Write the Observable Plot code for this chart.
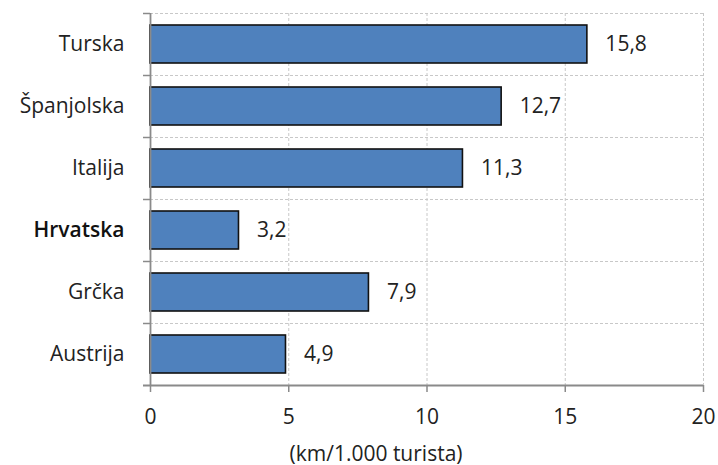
<!DOCTYPE html>
<html>
<head>
<meta charset="utf-8">
<script src="https://cdn.jsdelivr.net/npm/d3@7"></script>
<script src="https://cdn.jsdelivr.net/npm/@observablehq/plot@0.6"></script>
<style>
  html, body { margin: 0; padding: 0; background: #fff; }
  #chart svg { font-family: "Open Sans", "Noto Sans", sans-serif; }
</style>
</head>
<body>
<div id="chart"></div>
<script>
const categories = ["Turska", "Španjolska", "Italija", "Hrvatska", "Grčka", "Austrija"];
const values = [15.8, 12.7, 11.3, 3.2, 7.9, 4.9];
const xTicks = [0, 5, 10, 15, 20];
const axisTitle = "(km/1.000 turista)";
const highlighted = ["Hrvatska"];

const data = categories.map((name, i) => ({name, value: values[i]}));
const fmt = v => v.toFixed(1).replace(".", ",");

const W = 718, H = 465;
const mTop = 13, mBottom = 80, mLeft = 150, mRight = 15;
const step = (H - mTop - mBottom) / categories.length;
const gray = "#8a8a8a";
const grid = "#c8c8c8";
const fs = 21;

const chart = Plot.plot({
  width: W,
  height: H,
  marginTop: mTop,
  marginBottom: mBottom,
  marginLeft: mLeft,
  marginRight: mRight,
  style: {fontSize: fs + "px", color: "#222"},
  x: {domain: [0, 20], ticks: xTicks},
  y: {domain: categories, paddingInner: 0.38, paddingOuter: 0.19},
  marks: [
    Plot.ruleX(xTicks.slice(1), {stroke: grid, strokeDasharray: "3,2", strokeWidth: 1}),
    Plot.ruleY(categories, {y: d => d, dy: -step / 2, x1: 0, x2: 20, stroke: grid, strokeDasharray: "3,2", strokeWidth: 1}),
    Plot.ruleY(categories, {y: d => d, dy: -step / 2, x1: 0, x2: 0, insetLeft: -7, stroke: gray, strokeWidth: 1.5}),
    Plot.barX(data, {x: "value", y: "name", fill: "#4f81bd", stroke: "#111", strokeWidth: 1.6}),
    Plot.text(data, {x: "value", y: "name", text: d => fmt(d.value), textAnchor: "start", dx: 18, fill: "#222", fontSize: fs}),
    Plot.ruleX([0], {stroke: gray, strokeWidth: 1.8}),
    Plot.ruleY(categories.slice(-1), {y: d => d, dy: step / 2, x1: 0, x2: 20, insetLeft: -7, stroke: gray, strokeWidth: 1.8}),
    Plot.axisX(xTicks, {tickSize: 7, tickPadding: 17, stroke: gray, strokeWidth: 1.5, fill: "#222", fontSize: fs, label: null}),
    Plot.axisY(categories.filter(c => !highlighted.includes(c)), {tickSize: 0, tickPadding: 26, fill: "#222", fontSize: fs, label: null}),
    Plot.axisY(highlighted, {tickSize: 0, tickPadding: 26, fill: "#111", fontSize: fs, fontWeight: 600, label: null}),
    Plot.text([axisTitle], {frameAnchor: "bottom", dx: -51, dy: 75, fill: "#222", fontSize: fs})
  ]
});
document.getElementById("chart").append(chart);
</script>
</body>
</html>
